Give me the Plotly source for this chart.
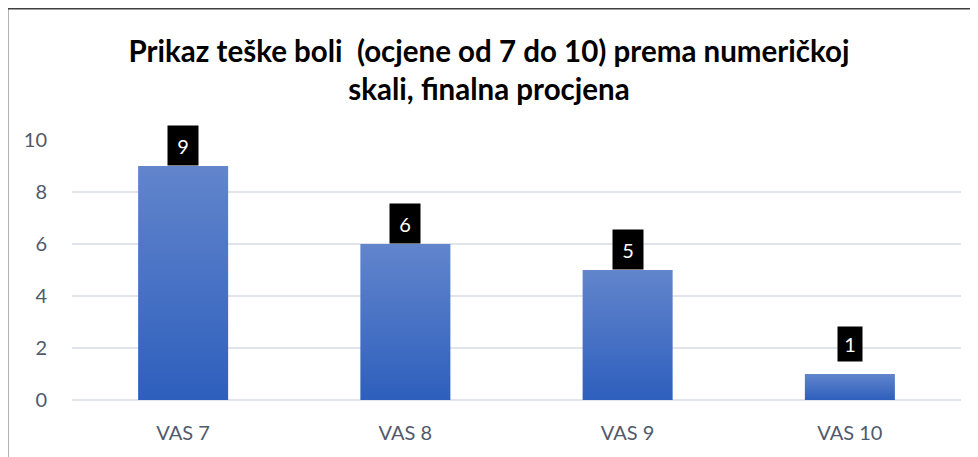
import plotly.graph_objects as go

categories = ["VAS 7", "VAS 8", "VAS 9", "VAS 10"]
values = [9, 6, 5, 1]
y_ticks = [0, 2, 4, 6, 8, 10]
title_text = "Prikaz teške boli  (ocjene od 7 do 10) prema numeričkoj<br>skali, finalna procjena"

# the page body has an 8px default margin; size the figure to compensate
OFF = 8
W, H = 978 - OFF, 457 - OFF
ML, MR, MT, MB = 72 - OFF, 17, 140 - OFF, 57
bar_half = 0.2025

fig = go.Figure()
for i, (c, v) in enumerate(zip(categories, values)):
    xs = [i - bar_half, i + bar_half, i + bar_half, i - bar_half, i - bar_half]
    ys = [0, 0, v, v, 0]
    fig.add_trace(go.Scatter(
        x=xs, y=ys, mode="lines", fill="toself",
        line=dict(width=0, color="rgba(0,0,0,0)"),
        fillgradient=dict(type="vertical",
                          colorscale=[[0, "#2E5FBD"], [1, "#6285CC"]]),
        hoverinfo="text", text=f"{c}: {v}", showlegend=False,
    ))
    small = v < 2
    fig.add_annotation(
        x=i, y=v, xref="x", yref="y", text=str(v), showarrow=False,
        yanchor="bottom", xanchor="center",
        yshift=12 if small else 0,
        font=dict(family="Lato", size=20, color="white"),
        bgcolor="black", borderpad=0,
        width=24 if small else 30, height=34 if small else 39,
    )

plot_w = W - ML - MR
plot_h = H - MT - MB
fig.add_shape(
    type="rect", xref="paper", yref="paper",
    x0=(7.5 - OFF - ML) / plot_w, x1=(W + 20 - ML) / plot_w,
    y0=-(MB + 20) / plot_h, y1=(H - MB - (8.5 - OFF)) / plot_h,
    line=dict(color="#3F3F3F", width=1.8), fillcolor="rgba(0,0,0,0)", layer="below",
)

fig.update_layout(
    width=W, height=H,
    margin=dict(l=ML, r=MR, t=MT, b=MB),
    paper_bgcolor="white", plot_bgcolor="white",
    title=dict(text=title_text, x=(489 - OFF) / W, xref="container", xanchor="center",
               y=1 - 54 / H, yref="container", yanchor="middle",
               font=dict(family="Lato", size=29.5, color="black", weight="bold")),
    xaxis=dict(range=[-0.5, 3.5], tickvals=list(range(len(categories))),
               ticktext=categories, showgrid=False, zeroline=False, showline=False,
               ticks="", ticklabelstandoff=19,
               tickfont=dict(family="Lato", size=20, color="#4F5A6B")),
    yaxis=dict(range=[0, 10], tickvals=y_ticks, showgrid=True,
               gridcolor="#E1E5EB", gridwidth=1.6, zeroline=True,
               zerolinecolor="#E1E5EB", zerolinewidth=1.6, showline=False,
               ticks="", ticklabelstandoff=24,
               tickfont=dict(family="Lato", size=20, color="#4F5A6B")),
    showlegend=False,
)

fig.write_html("out.html")
